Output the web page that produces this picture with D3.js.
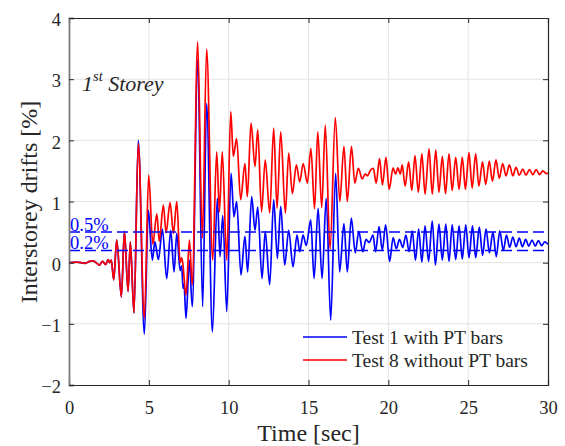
<!DOCTYPE html>
<html>
<head>
<meta charset="utf-8">
<script src="https://cdn.jsdelivr.net/npm/d3@7"></script>
<style>
  body { margin: 0; background: #fff; }
  text { font-family: "Liberation Serif", "Times New Roman", serif; fill: #262626; }
</style>
</head>
<body>
<div id="chart"></div>
<script>
// axis ticks
const xTicks = [0, 5, 10, 15, 20, 25, 30];
const yTicks = [-2, -1, 0, 1, 2, 3, 4];

// drift limits drawn as dashed lines
const driftLimits = [0.5, 0.2];
const limitLabels = ['0.5%', '0.2%'];

const legendLabels = ['Test 1 with PT bars', 'Test 8 without PT bars'];

// Test 1 (with PT bars) — [time s, drift %], peaks/troughs
const test1 = [
  [0,0],[0.5,0.01],[1.0,-0.01],[1.3,0.02],[1.48,0.03],[1.7,0],[1.9,-0.04],[2.1,0.02],[2.3,-0.03],
  [2.45,0.05],[2.55,0],[2.65,0.04],[2.8,-0.28],[2.99,0.37],[3.28,-0.56],[3.47,0.51],[3.7,-0.47],
  [3.84,0.34],[4.07,-0.82],[4.34,2.0],[4.72,-1.17],[4.97,0.86],[5.22,0.04],[5.38,0.34],[5.6,0.05],
  [5.85,0.55],[6.12,-0.26],[6.37,0.53],[6.58,-0.15],[6.75,0.48],[6.96,-0.13],[7.06,-0.05],[7.14,-0.42],
  [7.2,-0.35],[7.33,-0.91],[7.54,0.04],[7.72,-0.72],[8.06,3.31],[8.37,-0.72],[8.62,2.6],[8.98,-1.13],
  [9.29,1.05],[9.46,0.1],[9.63,0.77],[9.88,-0.8],[10.15,1.46],[10.33,0.75],[10.5,1.0],[10.77,-0.2],
  [11.02,0.43],[11.19,-0.15],[11.44,1.08],[11.65,0.53],[11.82,0.91],[12.09,-0.26],[12.29,0.51],
  [12.57,-0.36],[12.82,1.03],[13.05,0.07],[13.26,0.92],[13.51,-0.04],[13.76,0.53],[14.03,-0.07],
  [14.28,0.45],[14.45,0.18],[14.66,0.45],[14.86,0.28],[15.14,0.7],[15.35,-0.26],[15.6,0.89],
  [15.85,-0.26],[16.11,1.05],[16.39,-0.94],[16.7,1.46],[16.95,-0.15],[17.22,0.64],[17.43,-0.15],
  [17.68,0.73],[17.93,0.16],[18.15,0.51],[18.4,0.18],[18.6,0.38],[18.8,0.33],[19.04,0.45],[19.2,0.18],
  [19.42,0.59],[19.62,0.2],[19.83,0.62],[20.08,0.02],[20.3,0.41],[20.5,0.23],[20.7,0.38],[20.9,0.25],
  [21.1,0.45],[21.3,0.18],[21.5,0.52],[21.7,0.04],[21.9,0.55],[22.1,0.01],[22.3,0.6],[22.52,0.02],
  [22.75,0.68],[22.95,-0.04],[23.17,0.63],[23.38,0.04],[23.6,0.63],[23.8,0.02],[24.0,0.62],[24.22,0.05],
  [24.43,0.6],[24.63,0.06],[24.85,0.62],[25.05,0.08],[25.27,0.6],[25.47,0.08],[25.7,0.58],[25.9,0.12],
  [26.12,0.55],[26.33,0.16],[26.55,0.5],[26.76,0.1],[26.98,0.52],[27.2,0.2],[27.4,0.45],[27.6,0.25],
  [27.8,0.42],[28.0,0.26],[28.2,0.4],[28.4,0.26],[28.6,0.38],[28.8,0.27],[29.0,0.37],[29.2,0.27],
  [29.4,0.36],[29.6,0.28],[29.8,0.34],[30,0.3]
];

// Test 8 (without PT bars)
const test8 = [
  [0,0],[0.5,0.01],[1.0,-0.01],[1.3,0.02],[1.48,0.03],[1.7,0],[1.9,-0.04],[2.1,0.02],[2.3,-0.03],
  [2.45,0.05],[2.55,0],[2.65,0.04],[2.8,-0.28],[2.99,0.37],[3.28,-0.56],[3.47,0.51],[3.7,-0.47],
  [3.84,0.34],[4.07,-0.82],[4.34,1.95],[4.72,-0.91],[4.99,1.43],[5.25,0.3],[5.5,0.8],[5.65,0.35],
  [5.91,0.94],[6.08,0.49],[6.33,0.98],[6.54,0.48],[6.75,1.0],[6.96,0.0],[7.05,0.08],[7.12,0.0],
  [7.33,-0.53],[7.54,0.37],[7.72,-0.36],[8.06,3.61],[8.35,0.4],[8.62,3.49],[9.0,0.04],[9.25,1.81],
  [9.42,0.83],[9.6,1.81],[9.88,0.04],[10.13,2.47],[10.29,1.74],[10.5,2.03],[10.75,1.03],[11.02,1.62],
  [11.17,1.08],[11.4,2.28],[11.65,1.57],[11.82,2.17],[12.06,0.83],[12.29,1.68],[12.57,0.81],
  [12.82,2.2],[13.03,0.89],[13.26,2.14],[13.55,0.81],[13.76,1.79],[13.99,1.13],[14.24,1.6],
  [14.45,1.32],[14.67,1.62],[14.93,1.3],[15.15,1.87],[15.38,0.88],[15.58,2.14],[15.83,0.9],
  [16.05,2.25],[16.35,0.22],[16.68,2.37],[16.96,1.0],[17.22,1.9],[17.43,1.0],[17.69,1.9],[17.9,1.3],
  [18.12,1.54],[18.37,1.37],[18.54,1.45],[18.7,1.42],[18.85,1.5],[19.06,1.54],[19.24,1.3],[19.45,1.7],
  [19.63,1.27],[19.85,1.72],[20.05,1.2],[20.3,1.55],[20.45,1.45],[20.6,1.55],[20.75,1.45],[20.87,1.6],
  [21.05,1.25],[21.27,1.65],[21.47,1.18],[21.67,1.75],[21.88,1.15],[22.1,1.78],[22.3,1.12],
  [22.55,1.86],[22.75,1.12],[22.97,1.84],[23.17,1.15],[23.38,1.74],[23.58,1.13],[23.8,1.78],
  [24.0,1.18],[24.22,1.72],[24.43,1.2],[24.63,1.72],[24.83,1.2],[25.05,1.8],[25.25,1.22],[25.47,1.78],
  [25.67,1.25],[25.9,1.65],[26.1,1.28],[26.32,1.66],[26.52,1.33],[26.74,1.68],[26.95,1.38],
  [27.16,1.62],[27.37,1.42],[27.58,1.6],[27.8,1.42],[28.0,1.56],[28.2,1.43],[28.42,1.53],[28.62,1.43],
  [28.84,1.52],[29.05,1.44],[29.26,1.52],[29.47,1.44],[29.68,1.5],[29.88,1.46],[30,1.46]
];

const width = 565, height = 446;
const margin = { top: 18, right: 17, bottom: 61, left: 69 };
const iw = width - margin.left - margin.right;
const ih = height - margin.top - margin.bottom;

const svg = d3.select('#chart').append('svg')
  .attr('width', width).attr('height', height);
svg.append('rect').attr('width', width).attr('height', height).attr('fill', '#fff');

const g = svg.append('g').attr('transform', `translate(${margin.left},${margin.top})`);

const x = d3.scaleLinear().domain([0, 30]).range([0, iw]);
const y = d3.scaleLinear().domain([-2, 4]).range([ih, 0]);

// grid
g.append('g').selectAll('line').data(xTicks.slice(1, -1)).join('line')
  .attr('x1', d => x(d)).attr('x2', d => x(d)).attr('y1', 0).attr('y2', ih)
  .attr('stroke', '#e3e3e3').attr('stroke-width', 1);
g.append('g').selectAll('line').data(yTicks.slice(1, -1)).join('line')
  .attr('y1', d => y(d)).attr('y2', d => y(d)).attr('x1', 0).attr('x2', iw)
  .attr('stroke', '#e3e3e3').attr('stroke-width', 1);

// series
const line = d3.line()
  .x(d => x(d[0]))
  .y(d => y(d[1]))
  .curve(d3.curveMonotoneX);

const plot = g.append('g');
plot.append('path').datum(test1).attr('d', line)
  .attr('fill', 'none').attr('stroke', '#0000ff').attr('stroke-width', 1.7);
plot.append('path').datum(test8).attr('d', line)
  .attr('fill', 'none').attr('stroke', '#ff0000').attr('stroke-width', 1.7);

// drift limits
g.append('g').selectAll('line').data(driftLimits).join('line')
  .attr('x1', x(0)).attr('x2', x(30))
  .attr('y1', d => y(d)).attr('y2', d => y(d))
  .attr('stroke', '#0000ff').attr('stroke-width', 1.5)
  .attr('stroke-dasharray', '11,5');

g.append('g').selectAll('text').data(driftLimits).join('text')
  .attr('x', 1)
  .attr('y', d => y(d) - 1)
  .style('font-size', '18.5px')
  .style('fill', '#0000ff')
  .text((d, i) => limitLabels[i]);

// axes (ticks point inwards, on all four sides)
const tickLen = 5;
const axisColor = '#262626';

const xAxis = g.append('g').attr('transform', `translate(0,${ih})`)
  .call(d3.axisBottom(x).tickValues(xTicks).tickSize(-tickLen).tickPadding(16).tickFormat(d3.format('d')));
const xTop = g.append('g')
  .call(d3.axisTop(x).tickValues(xTicks).tickSize(-tickLen).tickFormat(''));
const yAxis = g.append('g')
  .call(d3.axisLeft(y).tickValues(yTicks).tickSize(-tickLen).tickPadding(8).tickFormat(d3.format('d')));
const yRight = g.append('g').attr('transform', `translate(${iw},0)`)
  .call(d3.axisRight(y).tickValues(yTicks).tickSize(-tickLen).tickFormat(''));

[xAxis, xTop, yAxis, yRight].forEach(a => {
  a.select('.domain').attr('stroke', axisColor).attr('stroke-width', 1.2);
  a.selectAll('.tick line').attr('stroke', axisColor);
  a.selectAll('.tick text')
    .style('font-size', '18.5px')
    .style('font-family', '"Liberation Serif", "Times New Roman", serif')
    .attr('fill', axisColor);
});
yAxis.select('.domain').attr('stroke', '#7a7a7a').attr('stroke-width', 1.8);
yAxis.selectAll('.tick text').attr('dy', '0.42em');
xAxis.selectAll('.tick text').attr('dy', '0.71em');

// axis labels
svg.append('text')
  .attr('x', margin.left + iw / 2).attr('y', 441)
  .attr('text-anchor', 'middle')
  .style('font-size', '24px')
  .text('Time [sec]');

svg.append('text')
  .attr('transform', `translate(37,${margin.top + 184}) rotate(-90)`)
  .attr('text-anchor', 'middle')
  .style('font-size', '24px')
  .text('Interstorey drifts [%]');

// storey annotation
const title = svg.append('text')
  .attr('x', 82).attr('y', 91)
  .style('font-size', '22px')
  .style('font-style', 'italic');
title.append('tspan').text('1');
title.append('tspan').attr('dy', -10).style('font-size', '14.5px').text('st');
title.append('tspan').attr('dy', 10).text('\u00a0Storey');

// legend (no box)
const legend = svg.append('g').attr('transform', 'translate(303,337)');
const legendColors = ['#0000ff', '#ff0000'];
legendLabels.forEach((label, i) => {
  const row = legend.append('g').attr('transform', `translate(0,${i * 23})`);
  row.append('line').attr('x1', 0).attr('x2', 44).attr('y1', 0).attr('y2', 0)
    .attr('stroke', legendColors[i]).attr('stroke-width', 1.6);
  row.append('text').attr('x', 49).attr('y', 6.5)
    .style('font-size', '19.5px')
    .text(label);
});
</script>
</body>
</html>
